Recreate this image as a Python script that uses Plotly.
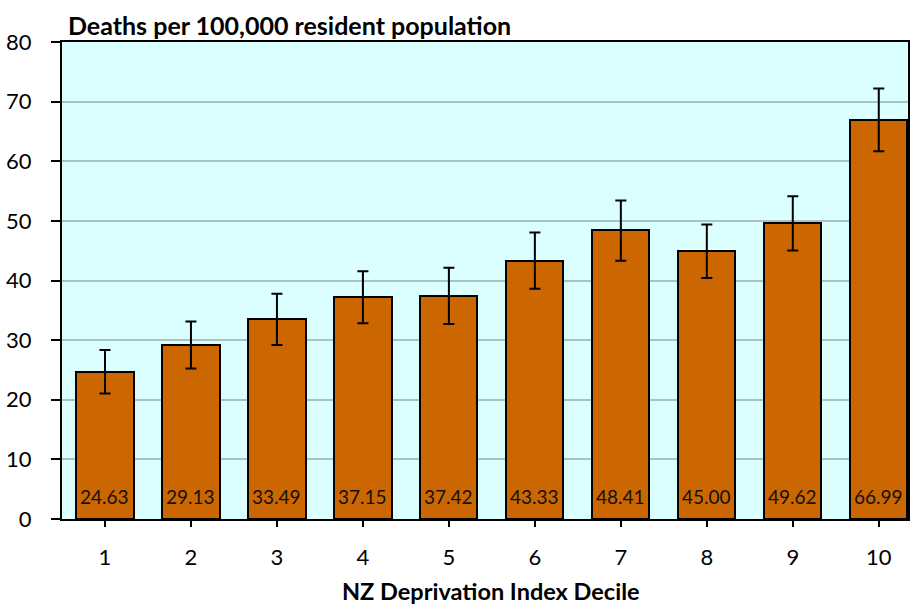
import plotly.graph_objects as go

deciles = [1, 2, 3, 4, 5, 6, 7, 8, 9, 10]
rates = [24.63, 29.13, 33.49, 37.15, 37.42, 43.33, 48.41, 45.00, 49.62, 66.99]
err_upper = [3.7, 4.0, 4.3, 4.4, 4.7, 4.7, 5.0, 4.4, 4.5, 5.2]
err_lower = [3.6, 3.9, 4.3, 4.3, 4.7, 4.7, 5.1, 4.6, 4.6, 5.3]
labels = [f"{v:.2f}" for v in rates]
y_ticks = [0, 10, 20, 30, 40, 50, 60, 70, 80]

FONT = "Lato"

fig = go.Figure()
fig.add_trace(go.Bar(
    x=deciles, y=rates, width=0.665,
    marker=dict(color="#CC6600", line=dict(color="#000000", width=2)),
    error_y=dict(type="data", symmetric=False, array=err_upper, arrayminus=err_lower,
                 color="#000000", thickness=2, width=5.5),
    showlegend=False, hoverinfo="x+y",
))

for d, lab in zip(deciles, labels):
    fig.add_annotation(
        x=d, y=0, xref="x", yref="y", text=lab, showarrow=False,
        yanchor="middle", yshift=23,
        font=dict(family=FONT, size=19, color="#111111"),
    )

fig.update_layout(
    width=910, height=606,
    margin=dict(l=62, r=2, t=42, b=87, autoexpand=False),
    paper_bgcolor="white", plot_bgcolor="#DBFEFF",
    font=dict(family=FONT, size=22, color="#000000"),
    bargap=0,
)
fig.update_xaxes(
    range=[0.5, 10.34], tickvals=deciles, ticktext=[str(d) for d in deciles],
    showgrid=False, showline=True, linecolor="#000000", linewidth=2, mirror=True,
    ticks="outside", ticklen=6, tickwidth=1.5, tickcolor="#000000",
    ticklabelstandoff=12, tickfont=dict(family=FONT, size=22), automargin=False,
)
fig.update_yaxes(
    range=[0, 80], tickvals=y_ticks,
    showgrid=True, gridcolor="#A9C3C4", gridwidth=1.5,
    showline=True, linecolor="#000000", linewidth=2, mirror=True,
    ticks="outside", ticklen=9, tickwidth=1.5, tickcolor="#000000",
    ticklabelstandoff=15, tickfont=dict(family=FONT, size=22), zeroline=False,
    automargin=False,
)
fig.add_annotation(
    text="<b>Deaths per 100,000 resident population</b>",
    xref="paper", yref="paper", x=0, y=1, xanchor="left", yanchor="bottom",
    xshift=4, yshift=0, showarrow=False, font=dict(family=FONT, size=25, color="#000000"),
)
fig.add_annotation(
    text="<b>NZ Deprivation Index Decile</b>",
    xref="paper", yref="paper", x=0.5, y=0, xanchor="center", yanchor="middle",
    xshift=6, yshift=-72, showarrow=False, font=dict(family=FONT, size=23.5, color="#000000"),
)

fig.write_html("out.html", config={"displayModeBar": False},
               post_script="document.body.style.margin='0px';")
